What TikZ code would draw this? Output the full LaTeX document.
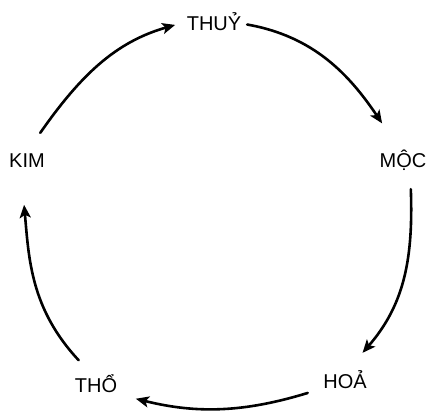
\documentclass[tikz,border=0pt]{standalone}
\usepackage{fontspec}
\setmainfont{Liberation Sans}
\usetikzlibrary{arrows.meta}

\begin{document}
\begin{tikzpicture}[x=1pt,y=1pt,
    e/.style={circle, minimum size=60pt, inner sep=0pt, text height=14pt,
              text depth=0pt, font=\fontsize{20}{22}\selectfont},
    a/.style={-{Stealth[length=13pt,width=11pt,inset=3pt]}, line width=2.6pt,
              line cap=round}]
    \useasboundingbox (0,0) rectangle (427,418);
    \node[e] (thuy) at (214,394) {THUỶ};
    \node[e] (moc)  at (403,258) {MỘC};
    \node[e] (hoa)  at (345,37)  {HOẢ};
    \node[e] (tho)  at (96,33)   {THỔ};
    \node[e] (kim)  at (27,258)  {KIM};
    \draw[a, shorten >=9pt]                 (kim.64)   to[out=55,in=196]  (thuy.177);
    \draw[a, shorten <=3pt, shorten >=12pt] (thuy.0)   to[out=-10,in=124] (moc.118);
    \draw[a, shorten >=3pt]                 (moc.-75)  to[out=-88,in=49]  (hoa.59);
    \draw[a, shorten <=9pt, shorten >=12pt] (hoa.198)  to[out=197,in=-14] (tho.-21);
    \draw[a, shorten >=15pt]                (tho.125)  to[out=133,in=-85] (kim.-98);
\end{tikzpicture}
\end{document}
